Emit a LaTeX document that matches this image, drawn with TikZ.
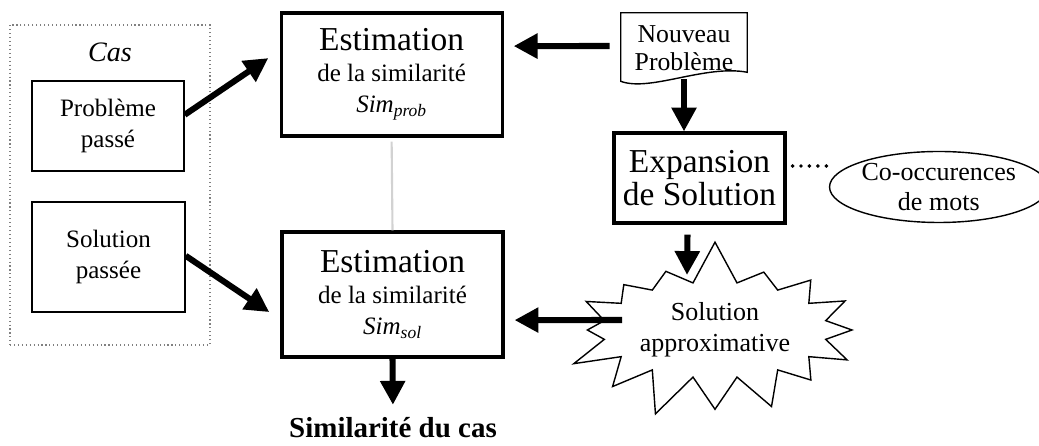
\documentclass[tikz,border=0pt]{standalone}
\usepackage{fontspec}
\setmainfont{Liberation Serif}
\usepackage{tikz}
\usetikzlibrary{arrows.meta,shapes,shapes.symbols,positioning}

\newcommand\petitetaille{\fontsize{17.8}{21.5}\selectfont}
\newcommand\grossetaille{\fontsize{23.8}{23}\selectfont}

\tikzset{
  boite/.style={draw, line width=1pt, align=center, font=\petitetaille},
  grandeboite/.style={draw, line width=2.2pt, align=center, font=\fontsize{17.8}{22}\selectfont},
  fleche/.style={line width=4.3pt, -{Triangle[length=17pt,width=17pt]}},
}

\begin{document}
\begin{tikzpicture}
            \useasboundingbox (0,0) rectangle (25.975,11.15);
            \node[draw=gray, dotted, line width=0.8pt, minimum width=5cm, minimum height=8cm] (cas) at (2.75,6.525) {};
            \node[font=\fontsize{20}{24}\selectfont\itshape] (castitre) at (2.75,9.85) {Cas};
            \node[boite, minimum width=3.8cm, minimum height=2.25cm] (probpasse) at (2.7,8.0) {Problème\\passé};
            \node[boite, minimum width=3.825cm, minimum height=2.75cm] (solpasse) at (2.7125,4.725) {Solution\\passée};
            
            \node[grandeboite, minimum width=5.525cm, minimum height=3.075cm] (estprob) at (9.79,9.2875)
                {{\grossetaille Estimation}\\de la similarité\\{\itshape Sim\textsubscript{prob}}};
            \node[grandeboite, minimum width=5.525cm, minimum height=3.125cm] (estsol) at (9.8125,3.7875)
                {{\grossetaille Estimation}\\de la similarité\\{\itshape Sim\textsubscript{sol}}};
            
            \node[align=center, font=\fontsize{18.3}{20}\selectfont, inner sep=0pt, minimum width=3.15cm, minimum height=1.75cm] (nouveau) at (17.1,9.95) {Nouveau\\Problème};
            \draw[line width=1pt] (nouveau.north west) -- (nouveau.north east) -- ([yshift=0.275cm]nouveau.south east)
                .. controls ([xshift=-1.05cm,yshift=0.475cm]nouveau.south east) and ([xshift=0.725cm,yshift=-0.225cm]nouveau.south west) .. ([yshift=0.05cm]nouveau.south west) -- cycle;
            \node[grandeboite, font=\grossetaille, minimum width=4.275cm, minimum height=2.25cm] (expansion) at (17.4875,6.7) {Expansion\\de Solution};
            \node[draw, ellipse, line width=1pt, align=center, font=\fontsize{18.5}{21}\selectfont, minimum width=4.95cm, minimum height=1.775cm, inner sep=0pt] (cooc) at (23.47,6.475) {Co-occurences\\de mots};
            \node[draw, starburst, starburst points=16, starburst point height=1.1cm, random starburst=7, line width=1pt,
                  align=center, font=\fontsize{18.5}{22}\selectfont, minimum width=4.1cm, minimum height=4.6cm] (burst) at (17.875,2.9) {Solution\\approximative};
            \node[font=\fontsize{20.6}{24}\selectfont\bfseries] (simcas) at (9.825,0.45) {Similarité du cas};
            
            \coordinate (burstin) at (17.175,4.275);
            \coordinate (burstout) at (15.55,3.15);
            
            \draw[fleche] ([yshift=0.28cm]probpasse.east) -- ([xshift=-0.28cm,yshift=0.41cm]estprob.west);
            \draw[fleche] ([yshift=0.03cm]solpasse.east) -- ([xshift=-0.28cm,yshift=-0.44cm]estsol.west);
            \draw[fleche] ([xshift=-0.28cm,yshift=0.05cm]nouveau.west) -- ([xshift=0.25cm,yshift=0.71cm]estprob.east);
            \draw[fleche] ([yshift=0.1cm]nouveau.south) -- (nouveau.south |- expansion.north);
            \draw[fleche] ([xshift=-0.3cm,yshift=-0.25cm]expansion.south) -- (burstin);
            \draw[fleche] (burstout) -- ([xshift=0.25cm,yshift=-0.64cm]estsol.east);
            \draw[fleche, shorten >=0.2cm] (estsol.south) -- (simcas.north);
            \draw[gray!35, line width=1.5pt, shorten <=0.1cm] (estprob.south) -- (estsol.north);
            \draw[line width=2.8pt, line cap=round, dash pattern=on 0pt off 6pt, shorten <=0.15cm, shorten >=0.05cm] ([yshift=0.3cm]expansion.east) -- ([yshift=0.525cm]cooc.west);
        \end{tikzpicture}
\end{document}
